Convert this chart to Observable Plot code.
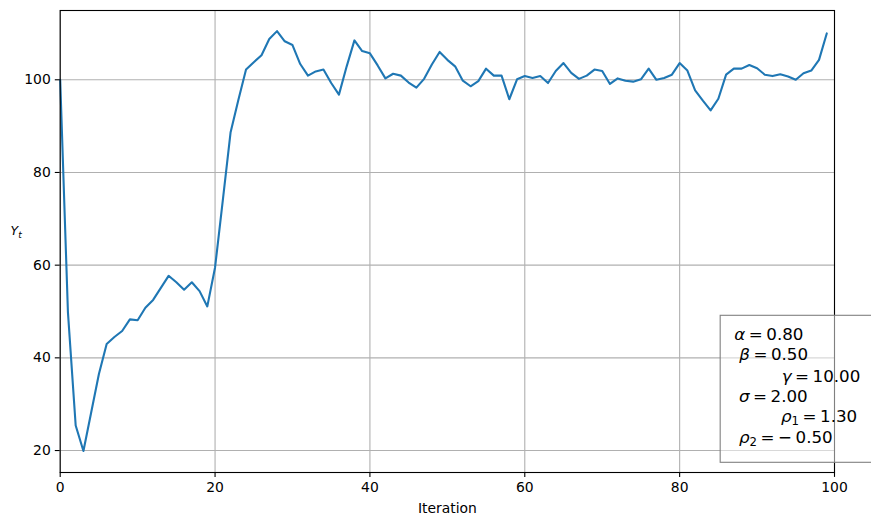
<!DOCTYPE html>
<html><head><meta charset="utf-8">
<script src="https://cdn.jsdelivr.net/npm/d3@7"></script>
<script src="https://cdn.jsdelivr.net/npm/@observablehq/plot@0.6"></script>
<style>
html,body{margin:0;padding:0;overflow:hidden;background:#fff}
#chart svg{font-family:"DejaVu Sans",sans-serif;overflow:visible}
</style>
</head><body><div id="chart"></div>
<script>
// ---- data ----
const yValues = [
  100, 49.8, 25.4, 19.9, 28.2, 36.5, 43.0, 44.5, 45.8, 48.3,
  48.1, 50.8, 52.5, 55.1, 57.7, 56.3, 54.7, 56.3, 54.4, 51.1,
  59.5, 74.0, 88.6, 95.6, 102.2, 103.8, 105.3, 108.8, 110.5, 108.3,
  107.5, 103.4, 100.9, 101.8, 102.2, 99.3, 96.8, 102.9, 108.5, 106.2,
  105.7, 103.1, 100.3, 101.3, 100.9, 99.4, 98.3, 100.2, 103.3, 106.0,
  104.3, 102.9, 99.8, 98.6, 99.7, 102.4, 100.9, 100.9, 95.8, 100.1,
  100.8, 100.4, 100.8, 99.3, 101.9, 103.6, 101.5, 100.2, 100.9, 102.2,
  101.9, 99.1, 100.3, 99.8, 99.6, 100.1, 102.4, 100.0, 100.4, 101.1,
  103.6, 102.0, 97.7, 95.5, 93.4, 95.9, 101.1, 102.4, 102.4, 103.2,
  102.5, 101.1, 100.8, 101.2, 100.7, 100.0, 101.4, 102.0, 104.3, 110.0
];
const xTicks = [0, 20, 40, 60, 80, 100];
const yTicks = [20, 40, 60, 80, 100];
const paramNames = ["α", "β", "γ", "σ", "ρ", "ρ"];
const paramSubs = ["", "", "", "", "1", "2"];
const paramValues = ["0.80", "0.50", "10.00", "2.00", "1.30", "− 0.50"];
const xLabel = "Iteration";

// ---- chart ----
const W = 871, H = 525;
const mL = 59.7, mR = 37, mT = 10, mB = 53;
const fs = 13.9;

const chart = Plot.plot({
  width: W, height: H,
  marginLeft: mL, marginRight: mR, marginTop: mT, marginBottom: mB,
  style: {fontFamily: "DejaVu Sans", fontSize: fs + "px", background: "white", color: "black"},
  x: {domain: [0, 100]},
  y: {domain: [15.26, 114.95]},
  marks: [
    Plot.gridX(xTicks, {stroke: "#b0b0b0", strokeOpacity: 1, strokeWidth: 1.1}),
    Plot.gridY(yTicks, {stroke: "#b0b0b0", strokeOpacity: 1, strokeWidth: 1.1}),
    Plot.line(yValues, {x: (d, i) => i, y: d => d, stroke: "#1f77b4", strokeWidth: 2.1}),
    Plot.frame({stroke: "black", strokeWidth: 1.1}),
    Plot.axisX(xTicks, {tickSize: 4.9, tickPadding: 4.5, strokeWidth: 1.1, fontSize: fs,
      label: xLabel, labelAnchor: "center", labelArrow: "none", labelOffset: 40, tickFormat: d => String(d)}),
    Plot.axisY(yTicks, {tickSize: 4.9, tickPadding: 4.5, strokeWidth: 1.1, fontSize: fs, label: null,
      tickFormat: d => String(d)})
  ]
});
document.getElementById("chart").appendChild(chart);

const svg = d3.select(chart);
// y label
const yl = svg.append("text").attr("x", 10.5).attr("y", 235).attr("text-anchor", "start")
  .attr("font-size", 12.5).attr("font-family", "DejaVu Sans").attr("fill", "black");
yl.append("tspan").attr("font-style", "italic").text("Y");
yl.append("tspan").attr("font-style", "italic").attr("font-size", 9).attr("dy", 3).text("t");

// parameter box
const pw = W - mL - mR;
const boxX = mL + 0.853 * pw, boxY = 315.3;
const g = svg.append("g").attr("text-anchor", "start");
g.append("rect").attr("x", boxX).attr("y", boxY).attr("width", 200).attr("height", 147)
  .attr("fill", "white").attr("fill-opacity", 0.5).attr("stroke", "#808080").attr("stroke-width", 1.1);
const lineX = [734.3, 739.3, 781.7, 739, 781, 739];
const lineY = [340, 360, 382.3, 401.7, 422, 442.7];
paramNames.forEach((n, i) => {
  const t = g.append("text").attr("x", lineX[i]).attr("y", lineY[i]).attr("text-anchor", "start")
    .attr("font-size", 16.7).attr("font-family", "DejaVu Sans").attr("fill", "black")
    .style("word-spacing", "-1.8px");
  t.append("tspan").attr("font-style", "italic").text(n);
  if (paramSubs[i]) t.append("tspan").attr("font-size", 11.7).attr("dy", 3).text(paramSubs[i]);
  t.append("tspan").attr("dy", paramSubs[i] ? -3 : 0).text(" = " + paramValues[i]);
});
</script>
</body></html>
